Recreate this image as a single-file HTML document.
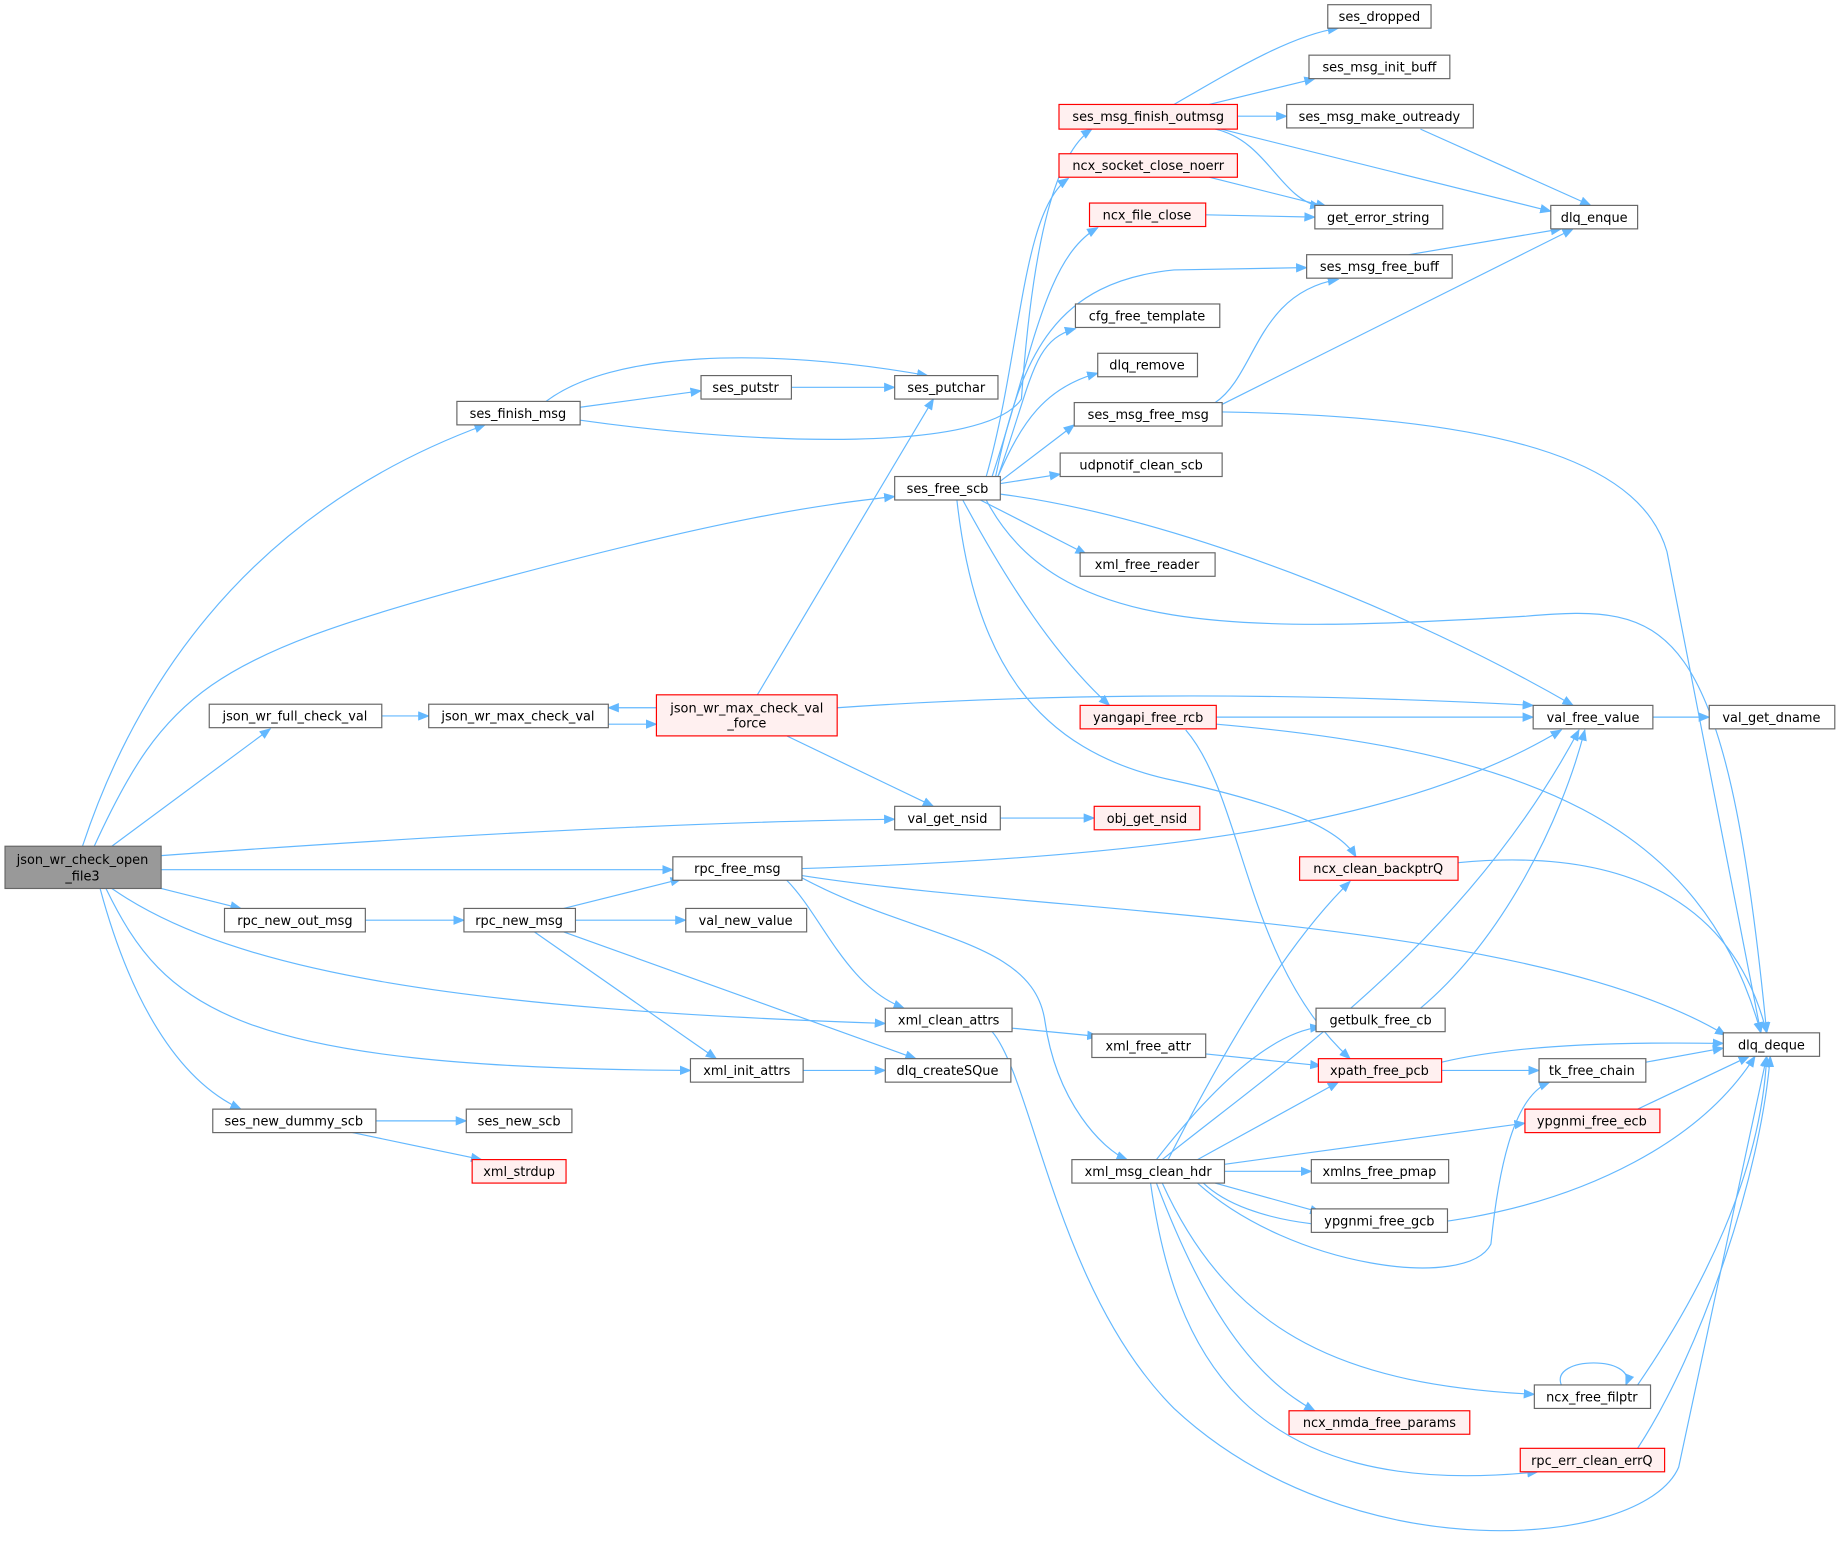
<!DOCTYPE html>
<html><head><meta charset="utf-8"><style>
html,body{margin:0;padding:0;background:#fff}
svg{display:block}
text{font-family:"DejaVu Sans","Liberation Sans",sans-serif;font-size:11px;fill:#000}
.n{fill:#fff;stroke:#666;stroke-width:1}
.r{fill:#fff0f0;stroke:#f00;stroke-width:1}
.g{fill:#999;stroke:#666;stroke-width:1}
path{fill:none;stroke:#63b8ff;stroke-width:1;marker-end:url(#a)}
</style></head><body>
<svg width="1841" height="1561" viewBox="0 0 1568 1330" xmlns="http://www.w3.org/2000/svg">
<defs><marker id="a" markerWidth="10" markerHeight="8" refX="9" refY="4" orient="auto" markerUnits="userSpaceOnUse"><polygon points="0,0 10,4 0,8" fill="#63b8ff"/></marker></defs>
<g>
<path d="M70,721 C110,600 200,440 413,362"/>
<path d="M80,721 C140,590 180,560 400,500 S700,430 762,423"/>
<path d="M95,721 L230,621"/>
<path d="M137,729 C400,710 600,700 762,698"/>
<path d="M137,741 L573,741"/>
<path d="M137,757 L205,774"/>
<path d="M95,757 C200,830 400,860 754,872"/>
<path d="M90,757 C140,860 200,910 588,912"/>
<path d="M85,757 C110,850 150,920 205,945"/>
<path d="M494,347 L597,333"/>
<path d="M465,342 C520,300 650,295 790,320"/>
<path d="M494,358 C650,380 840,385 870,340 C880,200 900,130 930,110"/>
<path d="M674,330 L762,330"/>
<path d="M840,406 C870,300 870,180 910,152"/>
<path d="M845,406 C880,300 890,220 935,194"/>
<path d="M848,406 C870,300 900,240 1000,230 L1113,228"/>
<path d="M850,406 C880,320 880,290 916,280"/>
<path d="M850,406 C870,360 890,330 935,318"/>
<path d="M852,410 L915,362"/>
<path d="M852,412 L903,404"/>
<path d="M835,426 L925,472"/>
<path d="M852,421 C1000,440 1200,520 1340,601"/>
<path d="M840,426 C900,540 1050,540 1300,525 C1420,515 1470,520 1505,880"/>
<path d="M820,426 C860,500 900,560 945,601"/>
<path d="M815,426 C830,560 880,640 1000,665 C1090,685 1140,705 1155,730"/>
<path d="M1000,89 C1050,60 1100,30 1140,24"/>
<path d="M1030,89 L1120,67"/>
<path d="M1054,99 L1096,99"/>
<path d="M1035,110 C1080,120 1090,170 1125,176"/>
<path d="M1040,110 L1321,180"/>
<path d="M1030,151 L1130,176"/>
<path d="M1027,183 L1120,185"/>
<path d="M1210,110 L1355,175"/>
<path d="M1200,217 L1330,195"/>
<path d="M1035,343 C1070,320 1070,250 1140,238"/>
<path d="M1040,345 L1340,195"/>
<path d="M1041,351 C1300,355 1400,400 1420,470 L1500,880"/>
<path d="M1408,611 L1456,611"/>
<path d="M325,610 L365,610"/>
<path d="M518,617 L559,617"/>
<path d="M559,603 L518,603"/>
<path d="M645,592 L795,340"/>
<path d="M713,603 C900,590 1100,590 1306,601"/>
<path d="M670,627 L795,687"/>
<path d="M1036,611 L1306,611"/>
<path d="M1036,617 C1300,640 1450,700 1500,880"/>
<path d="M1010,622 C1060,680 1060,820 1150,902"/>
<path d="M852,697 L932,697"/>
<path d="M683,740 C1000,730 1200,700 1330,622"/>
<path d="M683,746 C900,780 1300,780 1470,882"/>
<path d="M670,750 C700,780 720,840 770,859"/>
<path d="M683,748 C780,800 880,800 890,870 C900,940 940,980 960,988"/>
<path d="M311,784 L395,784"/>
<path d="M480,774 L580,749"/>
<path d="M490,784 L584,784"/>
<path d="M455,794 L610,902"/>
<path d="M480,794 L780,902"/>
<path d="M862,876 L935,883"/>
<path d="M845,879 C880,920 900,1100 1000,1200 C1150,1340 1400,1320 1430,1250 L1505,900"/>
<path d="M684,912 L754,912"/>
<path d="M320,955 L397,955"/>
<path d="M300,965 L410,988"/>
<path d="M1027,898 L1125,908"/>
<path d="M985,988 C1030,930 1080,880 1125,875"/>
<path d="M990,988 C1100,900 1250,800 1345,622"/>
<path d="M995,988 C1050,880 1100,800 1150,751"/>
<path d="M1020,988 L1140,922"/>
<path d="M1043,992 L1299,957"/>
<path d="M1043,998 L1117,998"/>
<path d="M1035,1008 L1125,1033"/>
<path d="M1020,1008 C1100,1080 1250,1100 1270,1060 C1280,960 1300,930 1320,922"/>
<path d="M1025,1008 C1100,1080 1400,1050 1495,900"/>
<path d="M990,1008 C1050,1140 1150,1180 1307,1188"/>
<path d="M985,1008 C1020,1100 1060,1170 1120,1202"/>
<path d="M980,1008 C1000,1150 1060,1280 1310,1254"/>
<path d="M1210,859 C1280,800 1330,700 1350,622"/>
<path d="M1228,905 C1300,888 1400,888 1468,889"/>
<path d="M1228,912 L1311,912"/>
<path d="M1402,905 L1468,893"/>
<path d="M1395,945 L1490,900"/>
<path d="M1242,735 C1400,720 1480,780 1505,880"/>
<path d="M1330,1180 C1320,1155 1395,1155 1385,1180"/>
<path d="M1395,1180 C1450,1100 1500,1000 1505,900"/>
<path d="M1395,1234 C1450,1150 1500,1000 1508,900"/>
</g>
<g text-anchor="middle">
<rect class="g" x="4" y="721" width="133" height="36"/><text x="70" y="736">json_wr_check_open</text><text x="70" y="750">_file3</text>
<rect class="r" x="559" y="592" width="154" height="35"/><text x="636" y="607">json_wr_max_check_val</text><text x="636" y="620">_force</text>
<rect class="n" x="389" y="342" width="105" height="20"/><text x="441" y="356">ses_finish_msg</text>
<rect class="n" x="597" y="320" width="77" height="20"/><text x="635" y="334">ses_putstr</text>
<rect class="n" x="762" y="320" width="88" height="20"/><text x="806" y="334">ses_putchar</text>
<rect class="n" x="762" y="406" width="90" height="20"/><text x="807" y="420">ses_free_scb</text>
<rect class="n" x="178" y="600" width="147" height="20"/><text x="251" y="614">json_wr_full_check_val</text>
<rect class="n" x="365" y="600" width="153" height="20"/><text x="441" y="614">json_wr_max_check_val</text>
<rect class="n" x="762" y="687" width="90" height="20"/><text x="807" y="701">val_get_nsid</text>
<rect class="r" x="932" y="687" width="90" height="20"/><text x="977" y="701">obj_get_nsid</text>
<rect class="n" x="573" y="730" width="110" height="20"/><text x="628" y="744">rpc_free_msg</text>
<rect class="n" x="191" y="774" width="120" height="20"/><text x="251" y="788">rpc_new_out_msg</text>
<rect class="n" x="395" y="774" width="95" height="20"/><text x="442" y="788">rpc_new_msg</text>
<rect class="n" x="584" y="774" width="103" height="20"/><text x="635" y="788">val_new_value</text>
<rect class="n" x="754" y="859" width="108" height="20"/><text x="808" y="873">xml_clean_attrs</text>
<rect class="n" x="588" y="902" width="96" height="20"/><text x="636" y="916">xml_init_attrs</text>
<rect class="n" x="754" y="902" width="107" height="20"/><text x="807" y="916">dlq_createSQue</text>
<rect class="n" x="181" y="945" width="139" height="20"/><text x="250" y="959">ses_new_dummy_scb</text>
<rect class="n" x="397" y="945" width="90" height="20"/><text x="442" y="959">ses_new_scb</text>
<rect class="r" x="402" y="988" width="80" height="20"/><text x="442" y="1002">xml_strdup</text>
<rect class="n" x="930" y="881" width="97" height="20"/><text x="978" y="895">xml_free_attr</text>
<rect class="n" x="913" y="988" width="130" height="20"/><text x="978" y="1002">xml_msg_clean_hdr</text>
<rect class="r" x="902" y="89" width="152" height="21"/><text x="978" y="103">ses_msg_finish_outmsg</text>
<rect class="r" x="902" y="131" width="152" height="20"/><text x="978" y="145">ncx_socket_close_noerr</text>
<rect class="r" x="928" y="173" width="99" height="20"/><text x="977" y="187">ncx_file_close</text>
<rect class="n" x="916" y="259" width="123" height="20"/><text x="977" y="273">cfg_free_template</text>
<rect class="n" x="935" y="301" width="85" height="20"/><text x="977" y="315">dlq_remove</text>
<rect class="n" x="915" y="343" width="126" height="20"/><text x="978" y="357">ses_msg_free_msg</text>
<rect class="n" x="903" y="386" width="138" height="20"/><text x="972" y="400">udpnotif_clean_scb</text>
<rect class="n" x="920" y="471" width="115" height="20"/><text x="977" y="485">xml_free_reader</text>
<rect class="r" x="920" y="601" width="116" height="20"/><text x="978" y="615">yangapi_free_rcb</text>
<rect class="n" x="1131" y="4" width="88" height="20"/><text x="1175" y="18">ses_dropped</text>
<rect class="n" x="1115" y="47" width="120" height="20"/><text x="1175" y="61">ses_msg_init_buff</text>
<rect class="n" x="1096" y="89" width="159" height="20"/><text x="1175" y="103">ses_msg_make_outready</text>
<rect class="n" x="1120" y="175" width="109" height="20"/><text x="1174" y="189">get_error_string</text>
<rect class="n" x="1113" y="217" width="124" height="20"/><text x="1175" y="231">ses_msg_free_buff</text>
<rect class="n" x="1321" y="175" width="74" height="20"/><text x="1358" y="189">dlq_enque</text>
<rect class="n" x="1306" y="601" width="102" height="20"/><text x="1357" y="615">val_free_value</text>
<rect class="n" x="1456" y="601" width="107" height="20"/><text x="1509" y="615">val_get_dname</text>
<rect class="r" x="1107" y="730" width="135" height="20"/><text x="1174" y="744">ncx_clean_backptrQ</text>
<rect class="n" x="1121" y="859" width="110" height="20"/><text x="1176" y="873">getbulk_free_cb</text>
<rect class="r" x="1123" y="902" width="105" height="20"/><text x="1175" y="916">xpath_free_pcb</text>
<rect class="n" x="1311" y="902" width="91" height="20"/><text x="1356" y="916">tk_free_chain</text>
<rect class="n" x="1468" y="880" width="82" height="20"/><text x="1509" y="894">dlq_deque</text>
<rect class="r" x="1299" y="945" width="115" height="20"/><text x="1356" y="959">ypgnmi_free_ecb</text>
<rect class="n" x="1117" y="988" width="117" height="20"/><text x="1175" y="1002">xmlns_free_pmap</text>
<rect class="n" x="1117" y="1030" width="116" height="20"/><text x="1175" y="1044">ypgnmi_free_gcb</text>
<rect class="n" x="1307" y="1180" width="99" height="20"/><text x="1356" y="1194">ncx_free_filptr</text>
<rect class="r" x="1098" y="1202" width="154" height="20"/><text x="1175" y="1216">ncx_nmda_free_params</text>
<rect class="r" x="1295" y="1234" width="123" height="20"/><text x="1356" y="1248">rpc_err_clean_errQ</text>
</g>
</svg>
</body></html>
